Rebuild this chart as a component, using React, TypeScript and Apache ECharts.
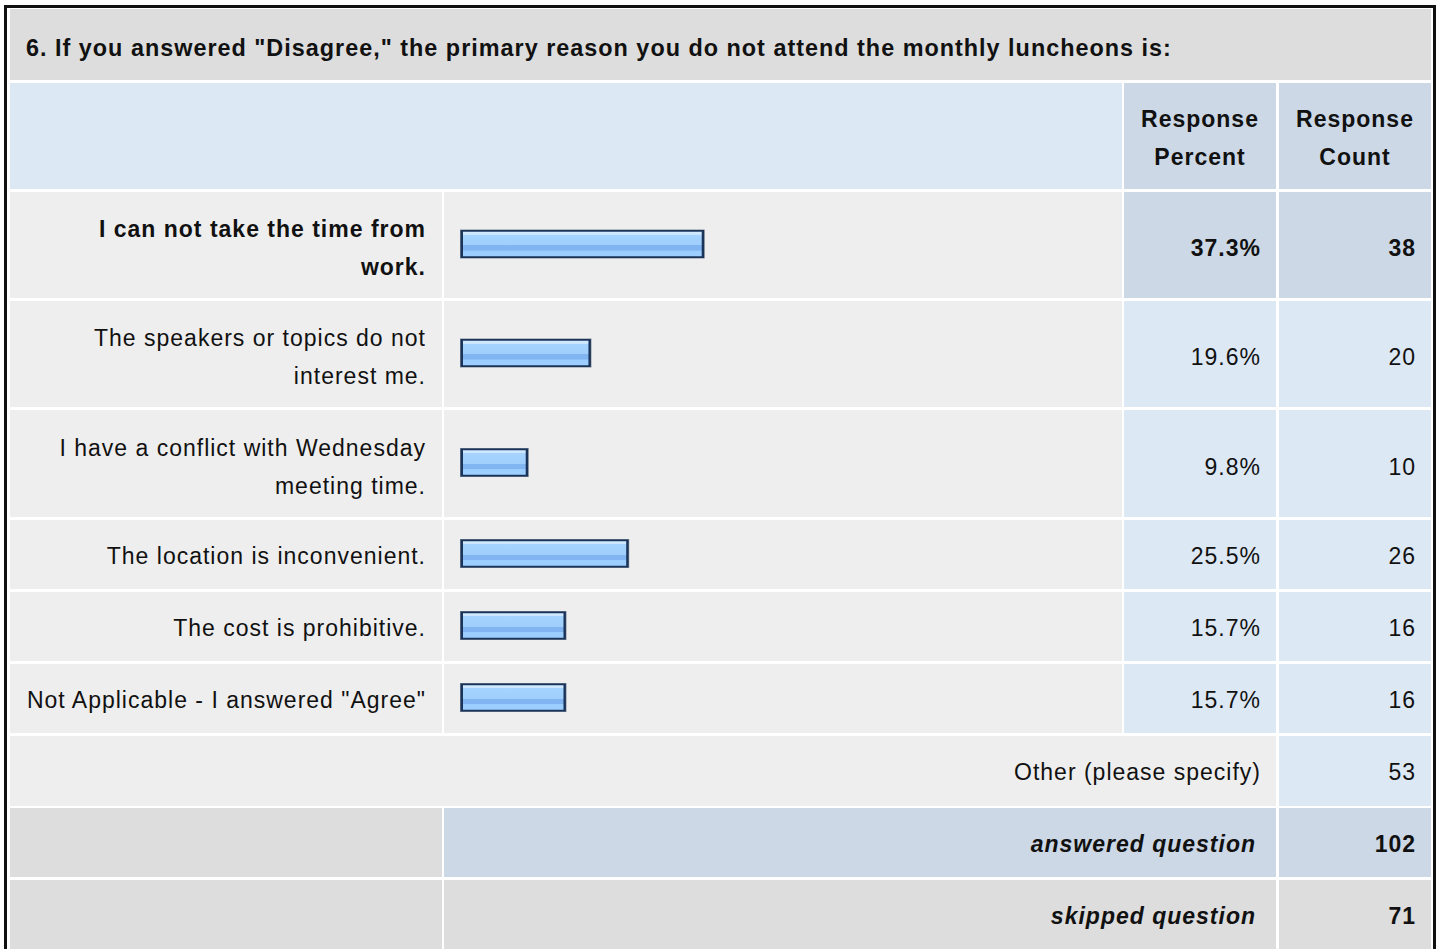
import React, { useEffect, useRef } from "react";
import * as echarts from "echarts";

// ---- data ----
const title = '6. If you answered "Disagree," the primary reason you do not attend the monthly luncheons is:';
const headerPercent = "Response\nPercent";
const headerCount = "Response\nCount";
const categories = [
  "I can not take the time from\nwork.",
  "The speakers or topics do not\ninterest me.",
  "I have a conflict with Wednesday\nmeeting time.",
  "The location is inconvenient.",
  "The cost is prohibitive.",
  'Not Applicable - I answered "Agree"',
];
const percents = [37.3, 19.6, 9.8, 25.5, 15.7, 15.7];
const counts = [38, 20, 10, 26, 16, 16];
const otherLabel = "Other (please specify)";
const otherCount = 53;
const answeredLabel = "answered question";
const answeredCount = 102;
const skippedLabel = "skipped question";
const skippedCount = 71;

// ---- layout ----
const COLS = [
  [10, 442],
  [444, 1122],
  [1124, 1276],
  [1279, 1431],
];
const TITLE_ROW = [9, 80];
const HEADER_ROW = [83, 189];
const DATA_ROWS = [
  [192, 298],
  [301, 407],
  [410, 517],
  [520, 589],
  [592, 661],
  [664, 733],
];
const OTHER_ROW = [736, 806];
const ANSWERED_ROW = [808, 877];
const SKIPPED_ROW = [880, 952];

const GRAY = "#dddddd";
const LIGHTGRAY = "#eeeeee";
const LIGHTBLUE = "#dde8f5";
const BLUE = "#ccd8e6";
const TEXT = "#111111";
const FONT = "'Liberation Sans', Arial, Helvetica, sans-serif";
const FS = 23;

function cell(x0: number, x1: number, y0: number, y1: number, fill: string) {
  return { type: "rect", shape: { x: x0, y: y0, width: x1 - x0, height: y1 - y0 }, style: { fill }, silent: true };
}

function txt(text: string, x: number, y: number, align: string, opts: any = {}) {
  return {
    type: "text",
    silent: true,
    style: {
      text,
      x,
      y,
      align,
      textAlign: align,
      verticalAlign: "middle",
      textVerticalAlign: "middle",
      fill: TEXT,
      fontFamily: FONT,
      fontSize: opts.size || FS,
      lineHeight: 38,
      fontWeight: opts.bold ? "bold" : "normal",
      fontStyle: opts.italic ? "italic" : "normal",
    },
  };
}

const barFill = () =>
  new echarts.graphic.LinearGradient(0, 0, 0, 1, [
    { offset: 0, color: "#d4ebff" },
    { offset: 0.12, color: "#c9e5ff" },
    { offset: 0.13, color: "#a6d3ff" },
    { offset: 0.55, color: "#a0cffd" },
    { offset: 0.56, color: "#80b5f2" },
    { offset: 0.76, color: "#80b5f2" },
    { offset: 0.77, color: "#9acdff" },
    { offset: 1, color: "#9ecfff" },
  ]);

export default function App() {
  const ref = useRef<HTMLDivElement>(null);
  useEffect(() => {
    if (!ref.current) return;
    document.body.style.margin = "0";
    const chart = echarts.init(ref.current, undefined, { renderer: "svg" });

    const graphics: any[] = [];
    graphics.push({
      type: "rect",
      shape: { x: 5.5, y: 6.5, width: 1429, height: 960 },
      style: { fill: "#ffffff", stroke: "#111111", lineWidth: 3 },
      silent: true,
    });
    graphics.push(cell(COLS[0][0], COLS[3][1], TITLE_ROW[0], TITLE_ROW[1], GRAY));
    graphics.push(cell(COLS[0][0], COLS[1][1], HEADER_ROW[0], HEADER_ROW[1], LIGHTBLUE));
    graphics.push(cell(COLS[2][0], COLS[2][1], HEADER_ROW[0], HEADER_ROW[1], BLUE));
    graphics.push(cell(COLS[3][0], COLS[3][1], HEADER_ROW[0], HEADER_ROW[1], BLUE));
    DATA_ROWS.forEach((r, i) => {
      graphics.push(cell(COLS[0][0], COLS[0][1], r[0], r[1], LIGHTGRAY));
      graphics.push(cell(COLS[1][0], COLS[1][1], r[0], r[1], LIGHTGRAY));
      const valFill = i === 0 ? BLUE : LIGHTBLUE;
      graphics.push(cell(COLS[2][0], COLS[2][1], r[0], r[1], valFill));
      graphics.push(cell(COLS[3][0], COLS[3][1], r[0], r[1], valFill));
    });
    graphics.push(cell(COLS[0][0], COLS[2][1], OTHER_ROW[0], OTHER_ROW[1], LIGHTGRAY));
    graphics.push(cell(COLS[3][0], COLS[3][1], OTHER_ROW[0], OTHER_ROW[1], LIGHTBLUE));
    graphics.push(cell(COLS[0][0], COLS[0][1], ANSWERED_ROW[0], ANSWERED_ROW[1], GRAY));
    graphics.push(cell(COLS[1][0], COLS[2][1], ANSWERED_ROW[0], ANSWERED_ROW[1], BLUE));
    graphics.push(cell(COLS[3][0], COLS[3][1], ANSWERED_ROW[0], ANSWERED_ROW[1], BLUE));
    graphics.push(cell(COLS[0][0], COLS[0][1], SKIPPED_ROW[0], SKIPPED_ROW[1], GRAY));
    graphics.push(cell(COLS[1][0], COLS[2][1], SKIPPED_ROW[0], SKIPPED_ROW[1], GRAY));
    graphics.push(cell(COLS[3][0], COLS[3][1], SKIPPED_ROW[0], SKIPPED_ROW[1], GRAY));

    graphics.push(txt(title, 26, (TITLE_ROW[0] + TITLE_ROW[1]) / 2 + 3, "left", { bold: true, size: 23.4 }));
    const hy = (HEADER_ROW[0] + HEADER_ROW[1]) / 2 + 2;
    graphics.push(txt(headerPercent, (COLS[2][0] + COLS[2][1]) / 2, hy, "center", { bold: true }));
    graphics.push(txt(headerCount, (COLS[3][0] + COLS[3][1]) / 2, hy, "center", { bold: true }));

    DATA_ROWS.forEach((r, i) => {
      const tall = r[1] - r[0] > 90;
      const cy = (r[0] + r[1]) / 2 + (tall ? 3 : 1);
      const bold = i === 0;
      graphics.push(txt(categories[i], COLS[0][1] - 16, cy, "right", { bold }));
      graphics.push(txt(percents[i].toFixed(1) + "%", COLS[2][1] - 15, cy, "right", { bold }));
      graphics.push(txt(String(counts[i]), COLS[3][1] - 15, cy, "right", { bold }));
    });
    const oy = (OTHER_ROW[0] + OTHER_ROW[1]) / 2 + 1;
    graphics.push(txt(otherLabel, COLS[2][1] - 15, oy, "right"));
    graphics.push(txt(String(otherCount), COLS[3][1] - 15, oy, "right"));
    const ay = (ANSWERED_ROW[0] + ANSWERED_ROW[1]) / 2 + 1;
    graphics.push(txt(answeredLabel, COLS[2][1] - 20, ay, "right", { bold: true, italic: true }));
    graphics.push(txt(String(answeredCount), COLS[3][1] - 15, ay, "right", { bold: true }));
    const sy = (SKIPPED_ROW[0] + 949) / 2 + 1;
    graphics.push(txt(skippedLabel, COLS[2][1] - 20, sy, "right", { bold: true, italic: true }));
    graphics.push(txt(String(skippedCount), COLS[3][1] - 15, sy, "right", { bold: true }));

    const grids: any[] = [];
    const xAxes: any[] = [];
    const yAxes: any[] = [];
    const series: any[] = [];
    DATA_ROWS.forEach((r, i) => {
      grids.push({ left: 460, top: r[0] - 1, width: 640, height: r[1] - r[0], containLabel: false });
      xAxes.push({ type: "value", gridIndex: i, min: 0, max: 100, show: false });
      yAxes.push({ type: "category", gridIndex: i, data: [categories[i]], show: false });
      series.push({
        type: "custom",
        xAxisIndex: i,
        yAxisIndex: i,
        silent: true,
        encode: { x: 0, y: 1 },
        data: [[percents[i], 0]],
        renderItem: (params: any, api: any) => {
          const start = api.coord([0, api.value(1)]);
          const end = api.coord([api.value(0), api.value(1)]);
          const h = 29;
          const x = start[0];
          const w = end[0] - start[0] + 6;
          const y = start[1] - h / 2;
          return {
            type: "group",
            children: [
              { type: "rect", shape: { x: x, y: y, width: w, height: h }, style: { fill: "#7d899a" } },
              { type: "rect", shape: { x: x + 0.6, y: y + 0.6, width: w - 1.2, height: h - 1.2 }, style: { fill: "#1a3459" } },
              {
                type: "rect",
                shape: { x: x + 3, y: y + 2.2, width: w - 6, height: h - 4.4 },
                style: { fill: barFill() },
              },
            ],
          };
        },
      });
    });

    chart.setOption({
      animation: false,
      backgroundColor: "#ffffff",
      graphic: { elements: graphics },
      grid: grids,
      xAxis: xAxes,
      yAxis: yAxes,
      series,
    });
    return () => chart.dispose();
  }, []);
  return (
    <div
      ref={ref}
      style={{ position: "absolute", left: 0, top: 0, width: 1440, height: 949, letterSpacing: "1px" }}
    />
  );
}
